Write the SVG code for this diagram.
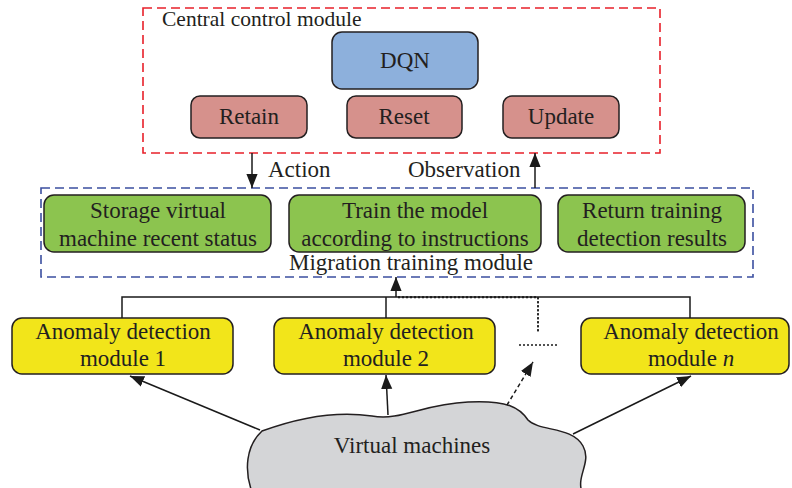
<svg xmlns="http://www.w3.org/2000/svg" width="792" height="488" viewBox="0 0 792 488">
  <defs>
    <marker id="arrBig" viewBox="0 0 10 10" refX="10" refY="5" markerWidth="14" markerHeight="14" markerUnits="userSpaceOnUse" orient="auto">
      <path d="M0,1 L10,5 L0,9 Z" fill="#1a1a1a"/>
    </marker>
  </defs>
  <style>
    .lbl { font-size: 23px; text-anchor: middle; }
    .node { stroke: #231f20; stroke-width: 1.5; }
    .dqn { fill: #8DB0DC; }
    .act { fill: #D6918C; }
    .mig { fill: #8CC44F; }
    .det { fill: #F2E51A; }
    .line { fill: none; stroke: #1a1a1a; stroke-width: 1.5; }
    .dot { fill: none; stroke: #1a1a1a; stroke-width: 1.5; stroke-dasharray: 2 2; }
    .dash { fill: none; stroke: #1a1a1a; stroke-width: 1.5; stroke-dasharray: 4 3; }
  </style>

  <rect width="792" height="488" fill="#ffffff"/>

  <g fill="#231f20">
  <!-- Central control module -->
  <g id="central-control">
    <rect x="143" y="8" width="517" height="145" fill="none" stroke="#E8202A" stroke-width="1.6" stroke-dasharray="9 5"/>
    <text x="162" y="26" font-size="21.5" font-family="Liberation Serif">Central control module</text>
  </g>
  <g id="dqn">
    <rect class="node dqn" x="332" y="32" width="146" height="57" rx="10"/>
    <text class="lbl" x="405" y="68" font-family="Liberation Serif">DQN</text>
  </g>
  <g id="retain">
    <rect class="node act" x="191" y="96" width="116" height="42" rx="9"/>
    <text class="lbl" x="249" y="124" font-family="Liberation Serif">Retain</text>
  </g>
  <g id="reset">
    <rect class="node act" x="347" y="96" width="115" height="42" rx="9"/>
    <text class="lbl" x="404" y="124" font-family="Liberation Serif">Reset</text>
  </g>
  <g id="update">
    <rect class="node act" x="503" y="96" width="116" height="42" rx="9"/>
    <text class="lbl" x="561" y="124" font-family="Liberation Serif">Update</text>
  </g>

  <!-- Migration training module -->
  <g id="migration-training">
    <rect x="41" y="188" width="712" height="89" fill="none" stroke="#3B4FA0" stroke-width="1.6" stroke-dasharray="9 5"/>
    <text class="lbl" x="411" y="270" font-family="Liberation Serif">Migration training module</text>
  </g>
  <g id="storage">
    <rect class="node mig" x="44" y="195" width="227" height="57" rx="10"/>
    <text class="lbl" x="158" y="218" font-family="Liberation Serif">Storage virtual</text>
    <text class="lbl" x="158" y="246" font-family="Liberation Serif">machine recent status</text>
  </g>
  <g id="train">
    <rect class="node mig" x="289" y="195" width="252" height="57" rx="10"/>
    <text class="lbl" x="415" y="218" font-family="Liberation Serif">Train the model</text>
    <text class="lbl" x="415" y="246" font-family="Liberation Serif">according to instructions</text>
  </g>
  <g id="return">
    <rect class="node mig" x="558" y="195" width="187" height="57" rx="10"/>
    <text class="lbl" x="652" y="218" font-family="Liberation Serif">Return training</text>
    <text class="lbl" x="652" y="246" font-family="Liberation Serif">detection results</text>
  </g>

  <!-- Anomaly detection modules -->
  <g id="detect-1">
    <rect class="node det" x="12" y="318" width="221" height="56" rx="10"/>
    <text class="lbl" x="123" y="339" font-family="Liberation Serif">Anomaly detection</text>
    <text class="lbl" x="123" y="366" font-family="Liberation Serif">module 1</text>
  </g>
  <g id="detect-2">
    <rect class="node det" x="274" y="318" width="221" height="56" rx="10"/>
    <text class="lbl" x="386" y="339" font-family="Liberation Serif">Anomaly detection</text>
    <text class="lbl" x="386" y="366" font-family="Liberation Serif">module 2</text>
  </g>
  <g id="detect-n">
    <rect class="node det" x="581" y="318" width="208" height="56" rx="10"/>
    <text class="lbl" x="691" y="339" font-family="Liberation Serif">Anomaly detection</text>
    <text class="lbl" x="691" y="366" font-family="Liberation Serif">module <tspan font-style="italic">n</tspan></text>
  </g>

  <!-- Virtual machines cloud -->
  <g id="virtual-machines">
    <path d="M252 492 C244 470 246 446 262 431 C292 420 332 410 372 416 C402 421 422 404 468 402 C508 400 520 408 528 420 C540 432 572 426 583 446 C592 462 576 476 582 492 Z" fill="#D4D5D7" stroke="#231f20" stroke-width="1.5"/>
    <text class="lbl" x="412" y="453" font-family="Liberation Serif">Virtual machines</text>
  </g>

  <!-- Connectors -->
  <g id="connectors">
    <!-- Action / Observation -->
    <line class="line" x1="252" y1="153" x2="252" y2="188" marker-end="url(#arrBig)"/>
    <text x="268" y="177" font-size="23" font-family="Liberation Serif">Action</text>
    <line class="line" x1="535" y1="188" x2="535" y2="153" marker-end="url(#arrBig)"/>
    <text x="408" y="177" font-size="23" font-family="Liberation Serif">Observation</text>

    <!-- Result bus -->
    <polyline class="line" points="122,318 122,297 690,297 690,318"/>
    <line class="line" x1="386" y1="297" x2="386" y2="318"/>
    <line class="line" x1="396" y1="297" x2="396" y2="277" marker-end="url(#arrBig)"/>
    <polyline class="dot" points="398,297 538,297 538,333" stroke="#ffffff"/>
    <polyline class="dot" points="398,297.5 538,297.5 538,333"/>
    <line class="dot" x1="519" y1="345" x2="558" y2="345" stroke-width="2"/>

    <!-- Cloud to detectors -->
    <line class="line" x1="260" y1="430" x2="130" y2="376" marker-end="url(#arrBig)"/>
    <line class="line" x1="388" y1="415" x2="386" y2="375" marker-end="url(#arrBig)"/>
    <line class="dash" x1="507" y1="405" x2="533" y2="362" marker-end="url(#arrBig)"/>
    <line class="line" x1="573" y1="434" x2="691" y2="376" marker-end="url(#arrBig)"/>
  </g>
  </g>
</svg>
